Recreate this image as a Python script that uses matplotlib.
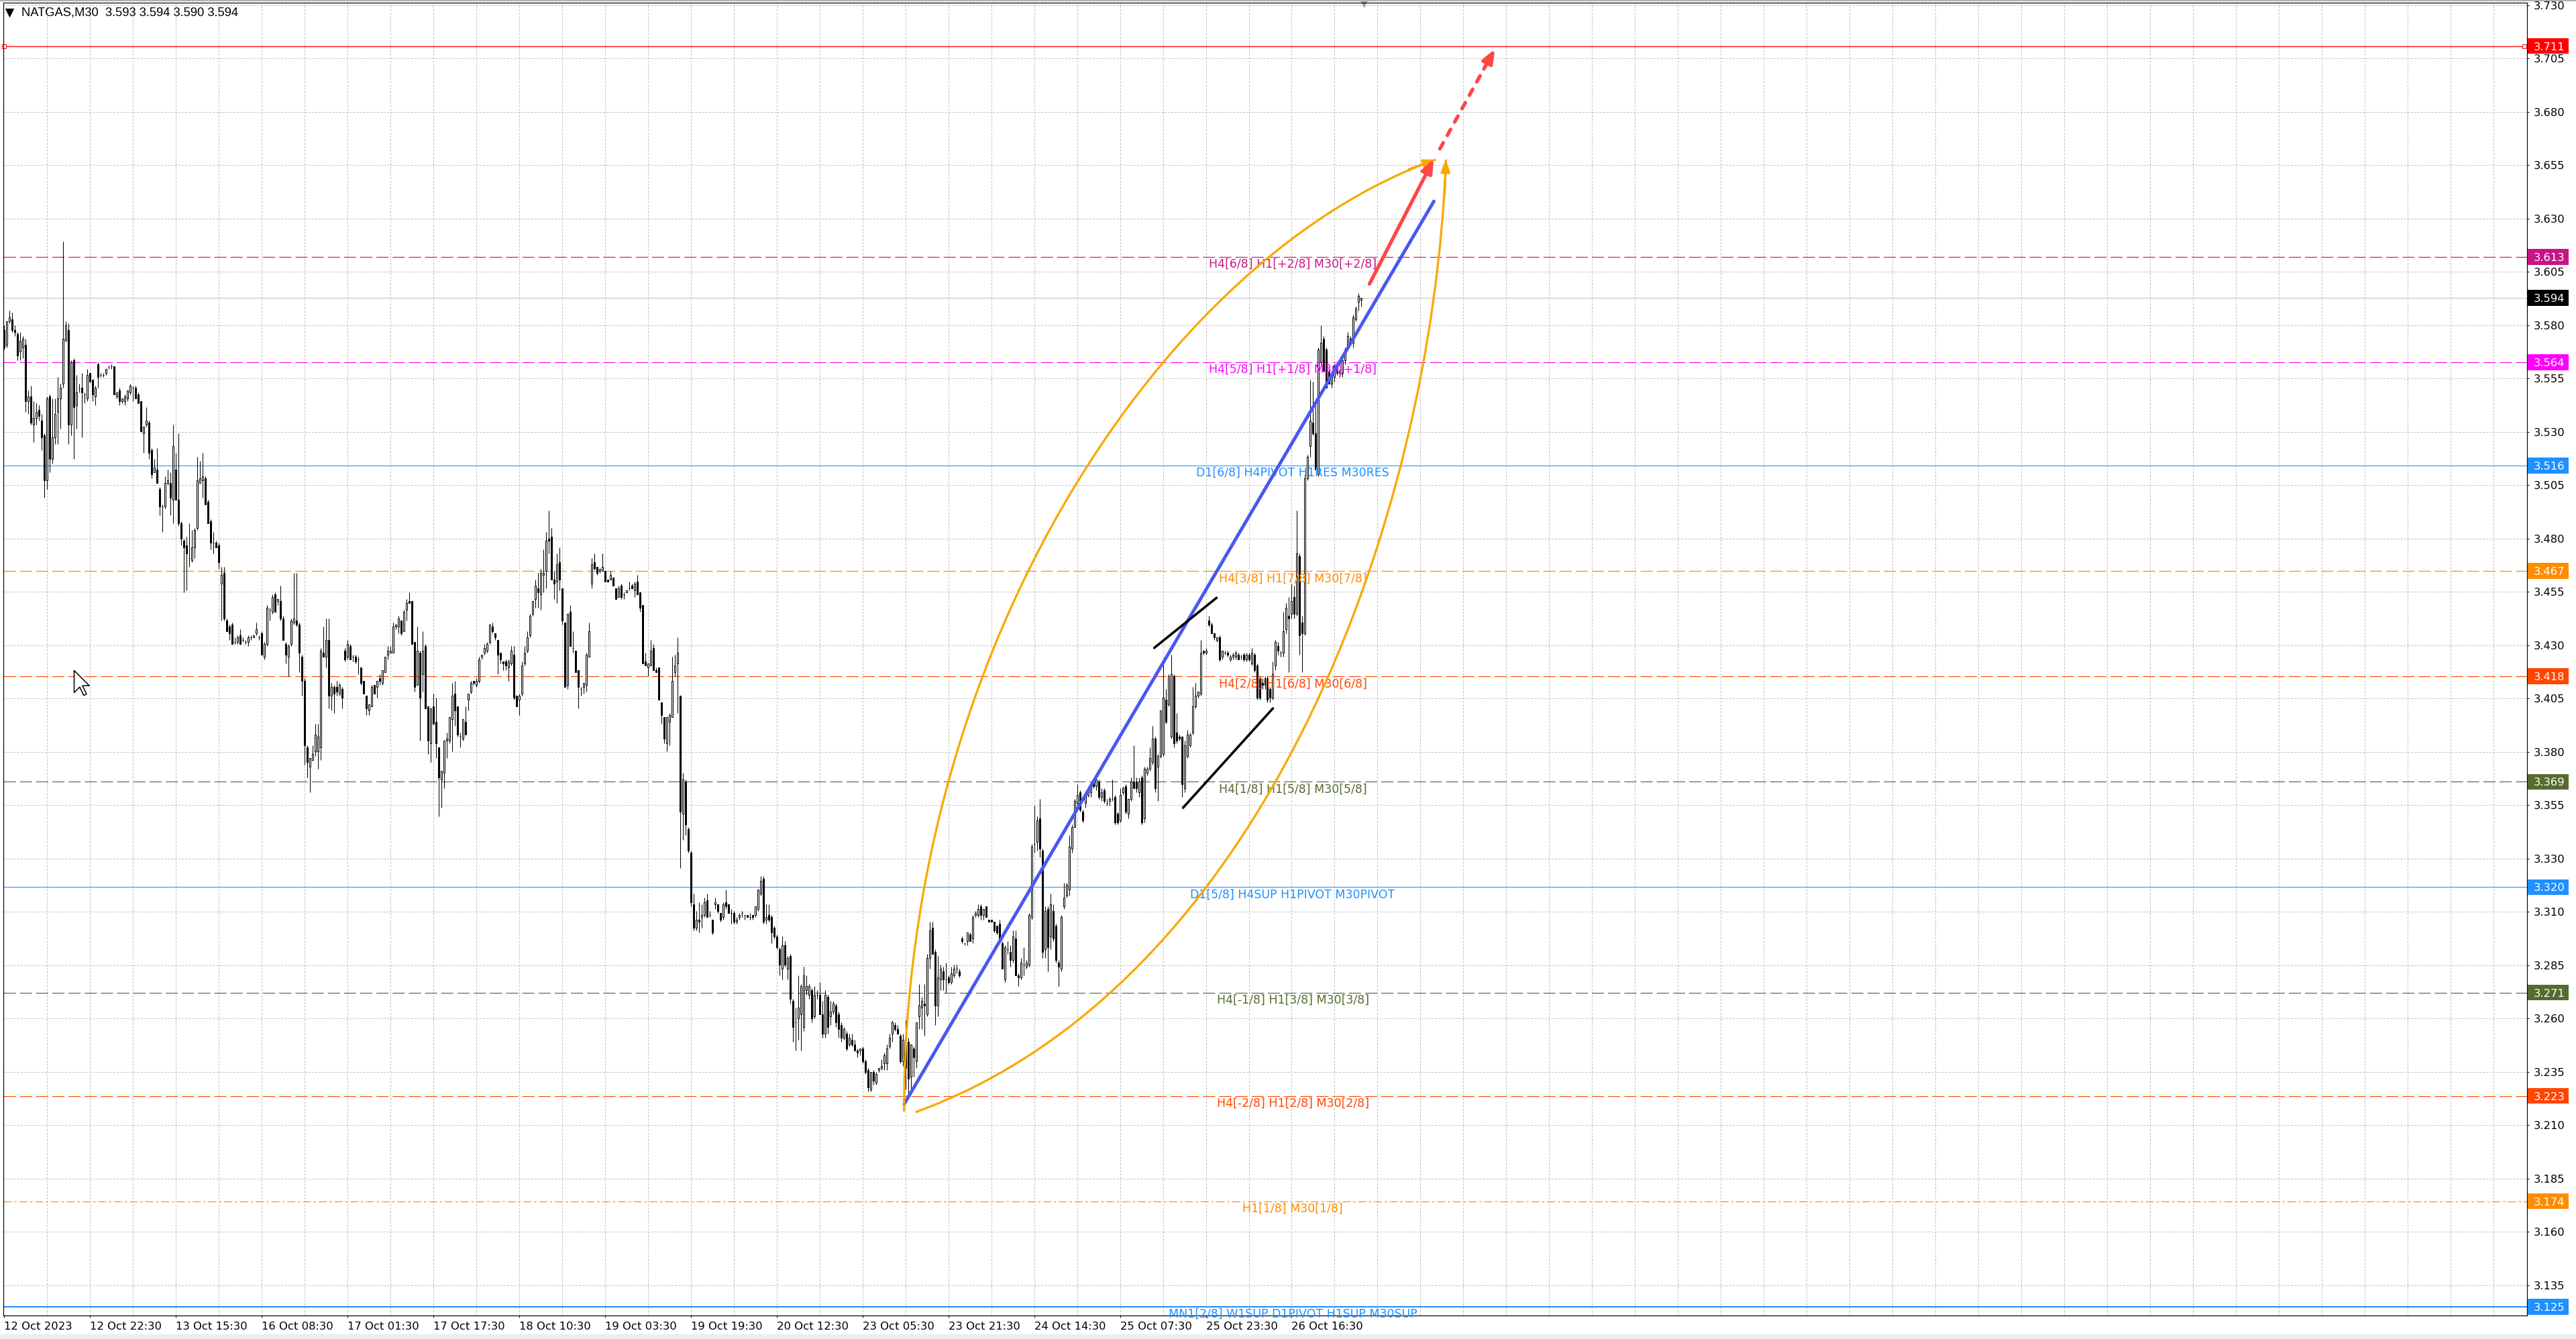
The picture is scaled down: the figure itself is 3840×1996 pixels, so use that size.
import matplotlib
matplotlib.use("Agg")
import matplotlib.pyplot as plt
import numpy as np
from matplotlib.patches import PathPatch, Rectangle
from matplotlib.path import Path
from matplotlib.transforms import blended_transform_factory

plt.rcParams["font.family"] = ["DejaVu Sans"]
plt.rcParams["lines.scale_dashes"] = False

# NATGAS M30 candles, prices in thousandths above 3.000, one value per bar
opens = [
    579, 572, 583, 584, 579, 577, 569, 571, 572, 546, 548, 535, 538, 542, 537, 530, 509, 548, 519, 529,
    541, 547, 554, 574, 579, 535, 565, 544, 552, 552, 549, 547, 559, 556, 548, 563, 558, 558, 559, 562,
    562, 562, 548, 551, 546, 546, 547, 550, 552, 552, 549, 546, 531, 535, 536, 523, 513, 514, 505, 497,
    497, 508, 508, 500, 514, 500, 489, 481, 479, 473, 472, 478, 487, 508, 509, 510, 499, 490, 480, 480,
    479, 461, 466, 444, 441, 442, 434, 434, 437, 435, 434, 434, 436, 436, 438, 436, 438, 427, 433, 449,
    448, 456, 453, 453, 445, 433, 427, 433, 443, 444, 442, 427, 416, 385, 376, 379, 383, 383, 385, 429,
    427, 435, 409, 413, 413, 410, 412, 430, 427, 432, 427, 427, 426, 422, 416, 409, 402, 404, 414, 413,
    417, 415, 420, 428, 429, 429, 441, 441, 444, 439, 449, 453, 453, 434, 414, 429, 419, 432, 404, 387,
    404, 397, 385, 370, 373, 388, 388, 398, 410, 404, 390, 389, 397, 407, 411, 416, 414, 416, 427, 429,
    430, 434, 441, 438, 435, 429, 425, 425, 422, 424, 428, 409, 407, 410, 424, 430, 437, 447, 454, 459,
    456, 465, 467, 482, 483, 463, 462, 471, 459, 443, 414, 448, 431, 430, 421, 412, 413, 414, 427, 461,
    471, 469, 467, 467, 467, 463, 463, 464, 459, 455, 460, 456, 457, 459, 460, 458, 462, 457, 451, 425,
    422, 423, 431, 421, 422, 406, 399, 387, 397, 399, 420, 424, 409, 354, 369, 347, 336, 312, 301, 305,
    306, 307, 314, 307, 305, 312, 312, 308, 306, 313, 312, 308, 308, 304, 306, 308, 307, 307, 306, 307,
    307, 310, 317, 324, 305, 307, 306, 301, 297, 291, 282, 293, 282, 288, 267, 257, 259, 261, 255, 272,
    270, 272, 260, 270, 270, 261, 252, 269, 260, 262, 265, 261, 256, 250, 252, 247, 249, 247, 244, 244,
    245, 239, 235, 226, 234, 229, 235, 236, 238, 238, 246, 252, 256, 254, 251, 239, 250, 248, 232, 245,
    239, 260, 264, 266, 261, 287, 301, 290, 265, 277, 281, 277, 278, 276, 279, 282, 281, 296, 294, 295,
    298, 296, 307, 307, 311, 307, 311, 305, 305, 304, 302, 303, 294, 277, 291, 290, 286, 296, 279, 278,
    284, 283, 284, 306, 340, 341, 352, 337, 291, 310, 297, 309, 302, 285, 282, 311, 316, 319, 338, 348,
    359, 364, 355, 359, 363, 364, 369, 367, 369, 362, 365, 359, 360, 361, 362, 354, 351, 364, 367, 354,
    361, 369, 369, 364, 371, 352, 373, 375, 378, 389, 376, 381, 382, 407, 405, 390, 418, 392, 390, 390,
    366, 381, 386, 392, 404, 409, 410, 430, 429, 444, 442, 438, 435, 436, 427, 429, 429, 426, 427, 427,
    428, 427, 428, 426, 428, 424, 428, 423, 417, 415, 414, 417, 412, 408, 423, 432, 429, 429, 440, 446,
    447, 455, 447, 474, 443, 438, 510, 525, 536, 531, 512, 564, 575, 570, 560, 554, 557, 562, 559, 559,
    565, 571, 575, 573, 584, 592, 593,
]
highs = [
    581, 583, 588, 587, 581, 578, 578, 576, 575, 551, 553, 546, 545, 544, 540, 531, 548, 549, 547, 547,
    557, 554, 620, 583, 582, 565, 566, 558, 554, 559, 550, 561, 559, 556, 553, 564, 559, 559, 561, 562,
    563, 562, 550, 552, 547, 549, 551, 554, 553, 553, 550, 546, 534, 543, 537, 524, 519, 524, 506, 498,
    511, 514, 513, 535, 522, 531, 490, 482, 483, 489, 486, 487, 520, 518, 522, 511, 500, 491, 485, 481,
    480, 469, 469, 445, 442, 443, 436, 437, 440, 436, 435, 437, 437, 437, 443, 437, 439, 434, 451, 450,
    456, 457, 454, 460, 446, 434, 433, 445, 466, 466, 443, 428, 417, 386, 380, 386, 396, 396, 431, 441,
    445, 445, 415, 414, 416, 415, 413, 431, 435, 433, 428, 428, 427, 422, 416, 409, 405, 414, 414, 416,
    419, 421, 427, 432, 432, 443, 442, 446, 444, 449, 454, 457, 453, 434, 441, 430, 439, 433, 404, 403,
    410, 408, 385, 374, 388, 392, 399, 415, 416, 404, 392, 398, 404, 410, 416, 416, 417, 427, 428, 433,
    434, 442, 443, 438, 435, 429, 425, 426, 426, 432, 432, 409, 410, 425, 432, 439, 447, 453, 463, 466,
    468, 477, 485, 495, 487, 467, 475, 478, 459, 443, 447, 451, 439, 430, 421, 413, 415, 429, 443, 473,
    475, 469, 468, 475, 467, 463, 467, 464, 459, 460, 461, 457, 458, 462, 461, 462, 465, 457, 451, 429,
    424, 435, 433, 422, 422, 406, 399, 399, 401, 427, 428, 436, 409, 373, 370, 348, 337, 317, 309, 313,
    312, 315, 317, 309, 305, 315, 312, 308, 313, 319, 312, 310, 309, 306, 308, 309, 307, 307, 308, 307,
    311, 319, 325, 325, 312, 312, 307, 302, 298, 292, 297, 295, 288, 289, 268, 264, 279, 275, 283, 279,
    275, 273, 274, 272, 276, 267, 272, 270, 267, 267, 266, 262, 257, 255, 253, 252, 252, 249, 245, 245,
    246, 240, 236, 234, 235, 234, 236, 240, 243, 247, 252, 258, 257, 256, 252, 252, 258, 250, 247, 246,
    257, 275, 269, 275, 289, 304, 304, 291, 288, 284, 283, 285, 279, 283, 284, 284, 282, 297, 294, 299,
    299, 307, 309, 312, 312, 310, 311, 305, 305, 304, 302, 305, 295, 293, 295, 293, 300, 300, 280, 287,
    292, 286, 308, 340, 358, 353, 361, 338, 311, 311, 317, 312, 303, 286, 307, 322, 322, 344, 349, 361,
    368, 365, 356, 363, 366, 368, 370, 371, 370, 366, 366, 361, 362, 370, 363, 355, 366, 367, 368, 361,
    371, 386, 371, 371, 372, 376, 376, 385, 395, 390, 382, 402, 426, 412, 419, 428, 419, 401, 391, 390,
    388, 393, 392, 413, 415, 411, 435, 430, 431, 446, 443, 438, 436, 437, 430, 430, 430, 428, 429, 430,
    429, 428, 429, 429, 429, 431, 429, 424, 418, 417, 418, 418, 413, 425, 435, 434, 430, 448, 452, 455,
    461, 460, 495, 475, 446, 512, 521, 556, 555, 544, 571, 581, 576, 571, 561, 560, 563, 563, 561, 566,
    571, 578, 576, 586, 590, 596, 594,
]
lows = [
    570, 571, 582, 578, 576, 565, 565, 566, 541, 540, 535, 527, 535, 537, 523, 501, 505, 513, 517, 526,
    526, 533, 552, 574, 526, 530, 519, 533, 550, 529, 545, 546, 555, 546, 544, 552, 557, 557, 558, 561,
    561, 549, 547, 544, 545, 544, 546, 549, 546, 547, 545, 532, 522, 534, 519, 510, 513, 508, 493, 485,
    496, 507, 493, 489, 500, 488, 479, 457, 458, 469, 471, 473, 486, 508, 501, 498, 489, 477, 475, 478,
    468, 444, 444, 439, 435, 433, 433, 433, 433, 434, 433, 432, 435, 436, 437, 435, 428, 426, 432, 444,
    447, 448, 451, 444, 435, 424, 418, 432, 442, 441, 420, 409, 377, 371, 364, 379, 381, 375, 379, 427,
    422, 403, 402, 401, 409, 409, 403, 425, 426, 426, 425, 424, 419, 414, 410, 400, 400, 404, 410, 408,
    414, 414, 420, 426, 429, 429, 440, 438, 437, 439, 444, 452, 433, 411, 414, 388, 411, 403, 382, 378,
    396, 380, 353, 357, 366, 380, 387, 383, 395, 390, 385, 388, 391, 402, 410, 414, 413, 415, 426, 428,
    429, 433, 438, 435, 419, 424, 421, 421, 416, 423, 407, 404, 400, 409, 423, 429, 436, 446, 450, 450,
    449, 457, 459, 475, 463, 454, 452, 458, 442, 413, 412, 432, 429, 420, 403, 409, 410, 411, 427, 459,
    468, 465, 466, 467, 462, 462, 463, 460, 454, 455, 454, 454, 457, 458, 459, 455, 456, 448, 424, 423,
    418, 423, 421, 420, 407, 396, 387, 383, 386, 399, 418, 401, 329, 342, 344, 336, 311, 300, 300, 299,
    301, 306, 306, 306, 298, 310, 308, 304, 305, 310, 308, 303, 303, 303, 305, 306, 305, 306, 305, 305,
    306, 309, 316, 303, 303, 304, 294, 296, 291, 279, 277, 283, 277, 266, 248, 244, 249, 244, 253, 270,
    268, 257, 259, 268, 261, 250, 250, 252, 256, 261, 255, 250, 248, 249, 244, 246, 246, 244, 241, 242,
    238, 233, 225, 225, 228, 228, 234, 235, 235, 235, 245, 248, 253, 252, 238, 237, 226, 223, 225, 232,
    236, 254, 254, 251, 260, 282, 289, 256, 260, 272, 272, 271, 275, 275, 278, 280, 278, 294, 293, 293,
    295, 294, 306, 306, 305, 305, 306, 304, 304, 299, 298, 296, 282, 276, 289, 283, 285, 279, 274, 277,
    279, 282, 283, 305, 336, 337, 334, 287, 287, 281, 291, 295, 285, 274, 281, 310, 315, 316, 336, 348,
    358, 355, 350, 357, 362, 362, 366, 365, 361, 360, 359, 358, 358, 360, 349, 349, 350, 363, 354, 352,
    360, 366, 364, 362, 349, 350, 372, 374, 377, 364, 360, 380, 381, 396, 404, 389, 385, 387, 388, 362,
    364, 380, 385, 391, 403, 408, 409, 428, 428, 441, 438, 435, 434, 425, 426, 428, 427, 425, 426, 426,
    426, 426, 425, 425, 425, 423, 420, 407, 407, 412, 412, 406, 406, 407, 421, 428, 427, 427, 438, 420,
    445, 445, 446, 428, 420, 437, 509, 520, 530, 514, 511, 563, 560, 552, 554, 552, 555, 558, 557, 557,
    563, 570, 572, 571, 583, 588, 590,
]
closes = [
    571, 583, 585, 579, 578, 567, 574, 575, 546, 548, 536, 538, 541, 539, 529, 509, 547, 519, 529, 540,
    547, 552, 575, 581, 535, 564, 543, 550, 552, 550, 549, 558, 555, 549, 552, 557, 558, 558, 561, 562,
    562, 549, 550, 546, 547, 548, 551, 553, 552, 547, 545, 532, 534, 537, 522, 512, 515, 508, 497, 497,
    508, 509, 501, 525, 500, 489, 482, 478, 475, 473, 478, 486, 509, 510, 511, 498, 489, 480, 480, 478,
    471, 465, 445, 439, 438, 433, 434, 436, 433, 435, 434, 436, 436, 437, 440, 436, 428, 433, 450, 449,
    455, 448, 454, 445, 435, 428, 432, 444, 445, 442, 429, 416, 386, 378, 380, 382, 391, 390, 430, 427,
    435, 409, 413, 410, 411, 414, 408, 426, 433, 426, 427, 425, 426, 415, 410, 403, 405, 413, 410, 416,
    416, 421, 427, 430, 430, 441, 442, 445, 438, 448, 452, 452, 433, 413, 430, 408, 430, 403, 388, 403,
    396, 387, 371, 374, 388, 389, 399, 409, 402, 391, 390, 398, 391, 410, 415, 415, 416, 426, 428, 431,
    433, 442, 439, 436, 428, 426, 424, 423, 425, 430, 408, 404, 409, 423, 429, 436, 446, 453, 460, 457,
    466, 466, 481, 481, 463, 461, 470, 463, 444, 413, 447, 432, 431, 420, 413, 412, 415, 428, 439, 470,
    468, 466, 468, 469, 462, 462, 465, 460, 454, 459, 455, 456, 458, 459, 459, 461, 456, 450, 424, 423,
    424, 430, 421, 420, 407, 400, 389, 399, 400, 416, 423, 429, 355, 370, 349, 337, 313, 301, 305, 304,
    307, 313, 306, 307, 299, 313, 309, 305, 312, 311, 308, 308, 304, 305, 307, 308, 307, 306, 306, 306,
    311, 319, 323, 304, 306, 305, 299, 297, 292, 284, 293, 284, 287, 268, 255, 257, 264, 274, 279, 274,
    274, 259, 270, 270, 261, 252, 270, 255, 262, 266, 257, 254, 250, 254, 245, 250, 247, 244, 243, 245,
    239, 234, 227, 234, 230, 233, 236, 237, 242, 245, 250, 257, 254, 252, 239, 249, 236, 231, 247, 241,
    257, 265, 267, 265, 287, 300, 289, 265, 278, 282, 277, 277, 276, 280, 282, 282, 279, 295, 294, 299,
    295, 306, 308, 310, 307, 310, 306, 304, 304, 300, 299, 296, 282, 292, 291, 286, 297, 279, 278, 285,
    284, 285, 307, 339, 340, 351, 338, 290, 309, 292, 312, 296, 286, 283, 306, 315, 321, 339, 348, 360,
    363, 356, 351, 363, 365, 367, 367, 370, 362, 364, 360, 359, 361, 361, 350, 350, 363, 366, 355, 361,
    369, 366, 366, 369, 350, 375, 375, 380, 389, 366, 381, 402, 408, 397, 418, 419, 387, 388, 389, 368,
    386, 391, 391, 404, 409, 411, 429, 429, 430, 442, 438, 436, 436, 426, 430, 429, 428, 427, 428, 429,
    426, 427, 426, 428, 426, 429, 421, 408, 408, 414, 417, 407, 408, 419, 434, 430, 429, 439, 450, 445,
    453, 447, 475, 437, 438, 510, 520, 537, 531, 514, 570, 573, 560, 552, 554, 559, 562, 559, 560, 565,
    570, 576, 573, 585, 589, 595, 594,
]

time_labels = [
    "12 Oct 2023", "12 Oct 22:30", "13 Oct 15:30", "16 Oct 08:30", "17 Oct 01:30",
    "17 Oct 17:30", "18 Oct 10:30", "19 Oct 03:30", "19 Oct 19:30", "20 Oct 12:30",
    "23 Oct 05:30", "23 Oct 21:30", "24 Oct 14:30", "25 Oct 07:30", "25 Oct 23:30",
    "26 Oct 16:30",
]
price_labels = [
    "3.730", "3.705", "3.680", "3.655", "3.630", "3.605", "3.580", "3.555", "3.530",
    "3.505", "3.480", "3.455", "3.430", "3.405", "3.380", "3.355", "3.330", "3.310",
    "3.285", "3.260", "3.235", "3.210", "3.185", "3.160", "3.135",
]

level_prices = [3.711, 3.613, 3.564, 3.516, 3.467, 3.418, 3.369, 3.320, 3.271, 3.223, 3.174, 3.125]
level_texts = [
    "",
    "H4[6/8] H1[+2/8] M30[+2/8]",
    "H4[5/8] H1[+1/8] M30[+1/8]",
    "D1[6/8] H4PIVOT H1RES M30RES",
    "H4[3/8] H1[7/8] M30[7/8]",
    "H4[2/8] H1[6/8] M30[6/8]",
    "H4[1/8] H1[5/8] M30[5/8]",
    "D1[5/8] H4SUP H1PIVOT M30PIVOT",
    "H4[-1/8] H1[3/8] M30[3/8]",
    "H4[-2/8] H1[2/8] M30[2/8]",
    "H1[1/8] M30[1/8]",
    "MN1[2/8] W1SUP D1PIVOT H1SUP M30SUP",
]
bid_price = 3.594
last_quote = "NATGAS,M30  3.593 3.594 3.590 3.594"

# hand drawn objects, anchors as (bar index, price)
trend_blue = [(335.5, 3.2191), (533.0, 3.6388)]
channel_top = [(428.75, 3.4312), (452.0, 3.4545)]
channel_bottom = [(439.5, 3.3569), (473.0, 3.4031)]
arc_upper = [(335.5, 3.2157), (335.5, 3.4340), (433.75, 3.6139), (533.75, 3.6582)]
arc_lower = [(339.75, 3.2154), (468.75, 3.2737), (532.5, 3.4892), (537.5, 3.6582)]
arrow_solid = [(509.0, 3.6004), (533.0, 3.6585)]
arrow_dashed = [(535.25, 3.6632), (555.75, 3.7096)]
mouse_at = (26.07, 3.4208)

# styles
DASH = (5.3, 1.8)
level_colors = ["#FF0000", "#C71585", "#FF00FF", "#1E90FF", "#FF8C00", "#FF4500",
                "#556B2F", "#1E90FF", "#556B2F", "#FF4500", "#FF8C00", "#1E90FF"]
level_dashes = [None, DASH, DASH, None, DASH, DASH, DASH, None, DASH, DASH, (3.5, 1.2, 1.0, 1.2), None]
level_widths = [0.4, 0.35, 0.35, 0.3, 0.35, 0.35, 0.35, 0.3, 0.35, 0.35, 0.35, 0.6]
BLUE, ORANGE, RED = "#4858F2", "#F9A800", "#FF4545"

W, H, DPI = 3840, 1996, 245
fig = plt.figure(figsize=(W / DPI, H / DPI), dpi=DPI, facecolor="white")
ax = fig.add_axes([5 / W, 35 / H, 3762 / W, 1957 / H])

o = 3 + np.array(opens) / 1000
hi = 3 + np.array(highs) / 1000
lo = 3 + np.array(lows) / 1000
c = 3 + np.array(closes) / 1000
assert len(o) == len(hi) == len(lo) == len(c), (len(o), len(hi), len(lo), len(c))
x = np.arange(len(o))

# grid
grid_kw = dict(color="#C0C0C0", lw=0.3, dashes=(0.9, 0.6), zorder=0)
for gx in range(16, 941, 16):
    ax.axvline(gx, **grid_kw)
yticks = np.linspace(3.730, 3.135, len(price_labels))
for gy in yticks:
    ax.axhline(gy, **grid_kw)

# levels
for price, color, dash, lw in zip(level_prices, level_colors, level_dashes, level_widths):
    ln = ax.axhline(price, color=color, lw=lw, zorder=1)
    if dash:
        ln.set_dashes(dash)
ax.axhline(bid_price, color="#C0C0C0", lw=0.3, zorder=1)
ax.plot([0, 939.5], [level_prices[0]] * 2, ls="none", marker="s", ms=1.5,
        mfc="white", mec="#FF0000", mew=0.3, zorder=2, clip_on=False)

# candles
up = c >= o
ax.vlines(x, lo, hi, color="black", lw=0.3, zorder=3)
ax.bar(x, np.abs(c - o), bottom=np.minimum(o, c), width=0.5,
       color=np.where(up, "white", "black"), edgecolor="black", linewidth=0.3, zorder=4)

# level captions
for price, text, color in zip(level_prices, level_texts, level_colors):
    if text:
        ax.annotate(text, (480.4, price), xytext=(0, -3.3), textcoords="offset points",
                    ha="center", va="center", fontsize=5.1, color=color, zorder=5)

# drawings
ax.plot(*zip(*trend_blue), color=BLUE, lw=1.45, solid_capstyle="round", zorder=7)
for seg in (channel_top, channel_bottom):
    ax.plot(*zip(*seg), color="black", lw=1.05, solid_capstyle="round", zorder=7)
for arc in (arc_upper, arc_lower):
    path = Path(arc, [Path.MOVETO, Path.CURVE4, Path.CURVE4, Path.CURVE4])
    ax.add_patch(PathPatch(path, fill=False, edgecolor=ORANGE, lw=0.95, zorder=7))
    (x2, y2), (x3, y3) = arc[2], arc[3]
    ax.annotate("", xy=(x3, y3), xytext=(x3 - 0.1 * (x3 - x2), y3 - 0.1 * (y3 - y2)),
                arrowprops=dict(arrowstyle="-|>,head_length=0.45,head_width=0.17",
                                color=ORANGE, lw=0.95, shrinkA=0, shrinkB=0), zorder=7)

head = "-|>,head_length=0.5,head_width=0.2"
(a0, b0), (a1, b1) = arrow_solid
ax.annotate("", xy=(a1, b1), xytext=(a0, b0),
            arrowprops=dict(arrowstyle=head, color=RED, lw=1.55, shrinkA=0, shrinkB=0,
                            capstyle="round"), zorder=8)
(a0, b0), (a1, b1) = arrow_dashed
am, bm = a0 + 0.8 * (a1 - a0), b0 + 0.8 * (b1 - b0)
ax.plot([a0, am], [b0, bm], color=RED, lw=1.55, dashes=(3.0, 3.7),
        dash_capstyle="round", zorder=8)
ax.annotate("", xy=(a1, b1), xytext=(am, bm),
            arrowprops=dict(arrowstyle=head, color=RED, lw=1.55, shrinkA=0, shrinkB=0), zorder=8)

# mouse pointer left on the chart
pointer = Path([(0, 0), (0, -16), (4, -12), (7, -18), (9, -17), (6, -11), (11, -11), (0, 0)])
ax.plot([mouse_at[0]], [mouse_at[1]], marker=pointer, ms=21.8, mfc="white", mec="black",
        mew=0.45, ls="none", zorder=9)

# axes
ax.set_xlim(-0.25, 940.5)
ax.set_ylim(3.12089, 3.73112)
ax.yaxis.tick_right()
ax.set_yticks(yticks)
ax.set_yticklabels(price_labels)
ax.set_xticks(np.arange(len(time_labels)) * 32)
ax.set_xticklabels(time_labels, ha="left")
ax.tick_params(axis="both", labelsize=4.8, length=0.9, width=0.3, direction="out")
ax.tick_params(axis="y", pad=2.0)
ax.tick_params(axis="x", pad=1.8)
for s in ax.spines.values():
    s.set_linewidth(0.35)

# price boxes on the right scale
bt = blended_transform_factory(ax.transAxes, ax.transData)
box_h = 23.6 / 3207
box_w = 61 / 3762
for price, color in zip(level_prices + [bid_price], level_colors + ["black"]):
    ax.add_patch(Rectangle((1.0003, price - box_h / 2), box_w, box_h, transform=bt,
                           facecolor=color, edgecolor="none", clip_on=False, zorder=9))
    ax.text(1.0003 + 9 / 3762, price, f"{price:.3f}", transform=bt, ha="left",
            va="center_baseline", fontsize=4.8, color="white", clip_on=False, zorder=10)

# header and window bits
fig.text(32 / W, 1 - 19.5 / H, last_quote, fontsize=5.4, family="Liberation Sans",
         va="center", ha="left")
ax.plot([14 / W], [1 - 18 / H], marker="v", ms=2.6, color="black",
        transform=fig.transFigure, clip_on=False)
ax.plot([507], [1.0], marker="v", ms=2.5, color="#A0A0A0",
        transform=blended_transform_factory(ax.transData, ax.transAxes), clip_on=False)
fig.add_artist(Rectangle((0, 0), 1, 7 / H, transform=fig.transFigure,
                         facecolor="#EDEDED", edgecolor="none"))
fig.add_artist(Rectangle((0, 1 - 2 / H), 1, 2 / H, transform=fig.transFigure,
                         facecolor="#B0B0B0", edgecolor="none"))

ax.set_xlim(-0.25, 940.5)
ax.set_ylim(3.12089, 3.73112)
fig.savefig("out.png", dpi=DPI, facecolor="white")
